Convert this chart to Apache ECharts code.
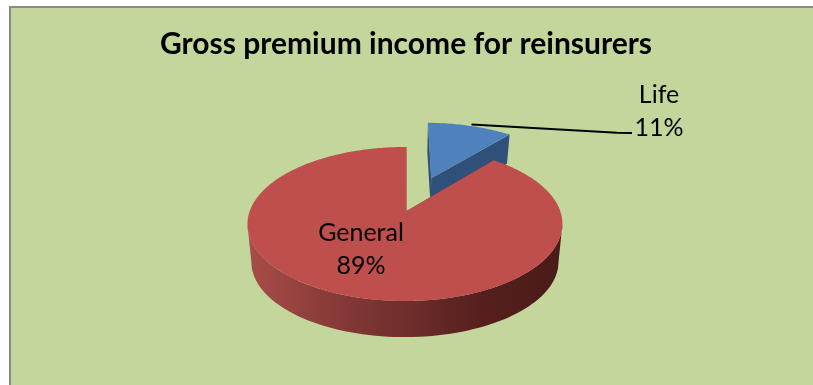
<!DOCTYPE html>
<html>
<head>
<meta charset="utf-8">
<style>html,body{margin:0;padding:0;background:#fff}#chart{width:813px;height:385px}</style>
<script src="https://cdn.jsdelivr.net/npm/echarts@6/dist/echarts.min.js"></script>
</head>
<body>
<div id="chart"></div>
<script>
// Share of gross premium income
const categories = ['Life', 'General'];
const values = [11, 89];
const titleText = 'Gross premium income for reinsurers';

// Slice appearance, in the same order as the categories
const topColors = ['#4f81bd', '#be4f4c'];
const cutColors = ['#2f5079', '#7a3230'];
const explode = [0.505, 0];
const depths = [27, 38];
const labelSpots = [
  { x: 659, y: 95, gap: 33, size: 25 },
  { x: 361, y: 233, gap: 33, size: 25 }
];

// Tilted-disc projection: unit circle coordinates to screen pixels
const view = { x0: 406.7, y0: 211, rx: 155.2, ry: 74.8, k: 0.169, m: 0.011, midX: 405, midY: 224, shrink: 0.975 };
const total = values.reduce((a, b) => a + b, 0);

function topPoint(u, v) {
  const w = 1 + view.k * v + view.m * u;
  return [view.x0 + view.rx * u / w, view.y0 - view.ry * v / w];
}
function basePoint(u, v, depth) {
  const p = topPoint(u, v);
  return [view.midX + (p[0] - view.midX) * view.shrink, view.midY + depth + (p[1] - view.midY) * view.shrink];
}

function renderSlice(params, api) {
  const i = params.dataIndex;
  const before = values.slice(0, i).reduce((a, b) => a + b, 0);
  const start = 90 - 360 * before / total;
  const sweep = 360 * api.value(0) / total;
  const mid = (start - sweep / 2) * Math.PI / 180;
  const ou = explode[i] * Math.cos(mid);
  const ov = explode[i] * Math.sin(mid);
  const at = deg => [ou + Math.cos(deg * Math.PI / 180), ov + Math.sin(deg * Math.PI / 180)];

  const arc = [];
  const steps = Math.ceil(sweep);
  for (let s = 0; s <= steps; s++) arc.push(at(start - sweep * s / steps));

  const children = [];
  const depth = depths[i];

  // Flat faces exposed along the two radial cuts
  [arc[0], arc[arc.length - 1]].forEach(e => {
    children.push({
      type: 'polygon',
      shape: { points: [topPoint(ou, ov), topPoint(e[0], e[1]), basePoint(e[0], e[1], depth), basePoint(ou, ov, depth)] },
      style: { fill: cutColors[i] }
    });
  });

  // Rim facing the viewer, shaded from left to right
  const front = [];
  for (let d = 190; d <= 350; d += 2) {
    const clockwiseFromStart = ((start - d) % 360 + 360) % 360;
    if (clockwiseFromStart <= sweep) front.push(at(d));
  }
  if (front.length) {
    const pts = front.map(p => topPoint(p[0], p[1]))
      .concat(front.slice().reverse().map(p => basePoint(p[0], p[1], depth)));
    children.push({
      type: 'polygon',
      shape: { points: pts },
      style: {
        fill: new echarts.graphic.LinearGradient(0, 0, 1, 0, [
          { offset: 0, color: '#a84d4a' },
          { offset: 0.25, color: '#8a3c39' },
          { offset: 0.5, color: '#6f2e2c' },
          { offset: 0.75, color: '#551f1d' },
          { offset: 1, color: '#4a1b19' }
        ])
      }
    });
  }

  // Top face
  const face = [topPoint(ou, ov)].concat(arc.map(p => topPoint(p[0], p[1])));
  children.push({ type: 'polygon', shape: { points: face }, style: { fill: topColors[i] } });

  // Value label
  const spot = labelSpots[i];
  const pct = Math.round(api.value(0) / total * 100) + '%';
  [categories[i], pct].forEach((t, n) => {
    children.push({
      type: 'text',
      style: {
        text: t, x: spot.x, y: spot.y + n * spot.gap,
        fill: '#000', textAlign: 'center', textVerticalAlign: 'middle',
        font: spot.size + 'px Lato'
      }
    });
  });

  // Leader line from the detached slice to its label
  if (i === 0) {
    children.push({
      type: 'polyline',
      shape: { points: [[471.5, 124.5], [617, 132.7], [632, 133]] },
      style: { stroke: '#000', lineWidth: 2, fill: 'none' }
    });
  }
  return { type: 'group', children };
}

const chart = echarts.init(document.getElementById('chart'));
chart.setOption({
  animation: false,
  backgroundColor: '#ffffff',
  title: {
    text: titleText,
    left: 406, top: 24, textAlign: 'center',
    textStyle: { fontFamily: 'Lato', fontWeight: 'bold', fontSize: 30, color: '#000' }
  },
  graphic: [{
    type: 'rect', z: -1, silent: true,
    shape: { x: 10, y: 7, width: 900, height: 500 },
    style: { fill: '#c3d69b', stroke: '#898989', lineWidth: 2 }
  }],
  series: [{
    type: 'custom',
    coordinateSystem: 'none',
    clip: false,
    renderItem: renderSlice,
    data: categories.map((name, i) => ({ name, value: [values[i]] }))
  }]
});
chart.setOption({ title: { left: 401 } });
</script>
</body>
</html>
